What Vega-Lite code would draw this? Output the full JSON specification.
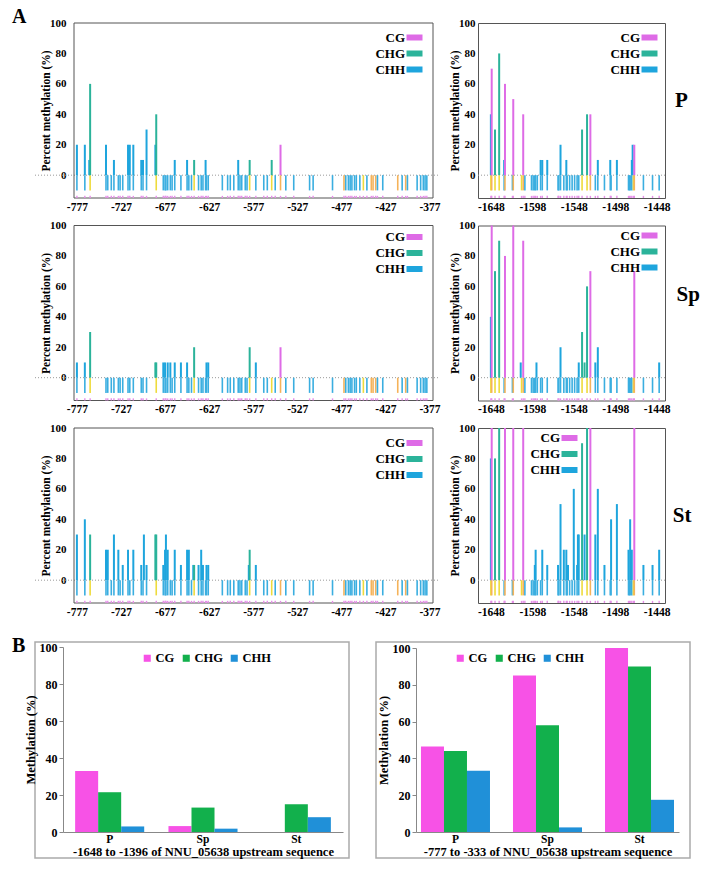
{
"$schema": "https://vega.github.io/schema/vega-lite/v6.json",
"padding": {"left": 12, "top": 6, "right": 0, "bottom": 0},
"autosize": {"type": "pad"},
"config": {
 "font": "Liberation Serif",
 "axis": {"labelFont": "Liberation Serif", "labelFontWeight": "bold", "labelColor": "#000", "labelFontSize": 11, "titleFont": "Liberation Serif", "titleFontWeight": "bold", "titleColor": "#000", "titleFontSize": 11.5, "grid": false, "domainColor": "#555", "tickColor": "#555", "tickSize": 3, "labelOverlap": false},
 "legend": {"labelFont": "Liberation Serif", "labelFontWeight": "bold", "labelColor": "#000", "padding": 0},
 "title": {"font": "Liberation Serif", "fontWeight": "bold", "color": "#000"}
},
"datasets": {
 "sL": [{"p":-777,"c":"CHH"},{"p":-768,"c":"CHH"},{"p":-762,"c":"CHG"},{"p":-744,"c":"CHH"},{"p":-742,"c":"CHH"},{"p":-738,"c":"CHH"},{"p":-735,"c":"CHH"},{"p":-730,"c":"CHH"},{"p":-728,"c":"CHH"},{"p":-725,"c":"CHH"},{"p":-719,"c":"CHH"},{"p":-717,"c":"CHH"},{"p":-713,"c":"CHH"},{"p":-704,"c":"CHH"},{"p":-702,"c":"CHH"},{"p":-698,"c":"CHH"},{"p":-687,"c":"CHG"},{"p":-679,"c":"CHH"},{"p":-677,"c":"CHH"},{"p":-676,"c":"CHH"},{"p":-674,"c":"CHH"},{"p":-671,"c":"CHH"},{"p":-669,"c":"CHH"},{"p":-666,"c":"CHH"},{"p":-659,"c":"CHH"},{"p":-652,"c":"CHH"},{"p":-650,"c":"CHH"},{"p":-647,"c":"CHH"},{"p":-644,"c":"CHG"},{"p":-639,"c":"CHH"},{"p":-636,"c":"CHH"},{"p":-634,"c":"CHH"},{"p":-631,"c":"CHH"},{"p":-630,"c":"CHH"},{"p":-628,"c":"CHH"},{"p":-612,"c":"CHH"},{"p":-606,"c":"CHH"},{"p":-603,"c":"CHH"},{"p":-599,"c":"CHH"},{"p":-594,"c":"CHH"},{"p":-592,"c":"CHH"},{"p":-590,"c":"CHH"},{"p":-586,"c":"CHH"},{"p":-584,"c":"CHH"},{"p":-581,"c":"CHG"},{"p":-574,"c":"CHH"},{"p":-565,"c":"CHH"},{"p":-561,"c":"CHH"},{"p":-556,"c":"CHG"},{"p":-552,"c":"CHH"},{"p":-546,"c":"CG"},{"p":-540,"c":"CHH"},{"p":-531,"c":"CHH"},{"p":-513,"c":"CHH"},{"p":-509,"c":"CHH"},{"p":-487,"c":"CHH"},{"p":-474,"c":"CG"},{"p":-472,"c":"CHH"},{"p":-469,"c":"CHH"},{"p":-467,"c":"CHH"},{"p":-465,"c":"CHH"},{"p":-462,"c":"CHH"},{"p":-460,"c":"CHH"},{"p":-456,"c":"CHH"},{"p":-452,"c":"CHG"},{"p":-448,"c":"CHH"},{"p":-443,"c":"CG"},{"p":-441,"c":"CG"},{"p":-438,"c":"CG"},{"p":-436,"c":"CHH"},{"p":-430,"c":"CHH"},{"p":-413,"c":"CG"},{"p":-408,"c":"CHH"},{"p":-404,"c":"CG"},{"p":-402,"c":"CHH"},{"p":-391,"c":"CHH"},{"p":-387,"c":"CHH"},{"p":-384,"c":"CHH"},{"p":-382,"c":"CHH"},{"p":-380,"c":"CHH"}],
 "sR": [{"p":-1648,"c":"CHG"},{"p":-1647,"c":"CG"},{"p":-1643,"c":"CHG"},{"p":-1638,"c":"CHG"},{"p":-1632,"c":"CHH"},{"p":-1631,"c":"CG"},{"p":-1622,"c":"CHH"},{"p":-1621,"c":"CG"},{"p":-1611,"c":"CHG"},{"p":-1609,"c":"CG"},{"p":-1607,"c":"CHH"},{"p":-1599,"c":"CHH"},{"p":-1597,"c":"CHH"},{"p":-1595,"c":"CHH"},{"p":-1594,"c":"CHH"},{"p":-1592,"c":"CHH"},{"p":-1588,"c":"CHH"},{"p":-1586,"c":"CHH"},{"p":-1580,"c":"CHH"},{"p":-1567,"c":"CHH"},{"p":-1566,"c":"CHH"},{"p":-1564,"c":"CHH"},{"p":-1560,"c":"CHH"},{"p":-1557,"c":"CHH"},{"p":-1556,"c":"CHH"},{"p":-1553,"c":"CHH"},{"p":-1550,"c":"CHH"},{"p":-1547,"c":"CHH"},{"p":-1544,"c":"CHH"},{"p":-1542,"c":"CHH"},{"p":-1538,"c":"CHG"},{"p":-1532,"c":"CHG"},{"p":-1528,"c":"CG"},{"p":-1522,"c":"CHH"},{"p":-1519,"c":"CHH"},{"p":-1511,"c":"CHH"},{"p":-1504,"c":"CHH"},{"p":-1503,"c":"CHH"},{"p":-1496,"c":"CHH"},{"p":-1482,"c":"CHH"},{"p":-1481,"c":"CHH"},{"p":-1480,"c":"CHH"},{"p":-1478,"c":"CHH"},{"p":-1476,"c":"CHG"},{"p":-1475,"c":"CG"},{"p":-1464,"c":"CHH"},{"p":-1453,"c":"CHH"},{"p":-1445,"c":"CHH"}],
 "mL": [
  {"r":"P","p":-777,"c":"CHH","v":20},{"r":"P","p":-768,"c":"CHH","v":20},{"r":"P","p":-763,"c":"CHH","v":10},{"r":"P","p":-762,"c":"CHG","v":60},{"r":"P","p":-744,"c":"CHH","v":20},{"r":"P","p":-735,"c":"CHH","v":10},{"r":"P","p":-719,"c":"CHH","v":20},{"r":"P","p":-717,"c":"CHH","v":20},{"r":"P","p":-713,"c":"CHH","v":20},{"r":"P","p":-704,"c":"CHH","v":10},{"r":"P","p":-702,"c":"CHH","v":10},{"r":"P","p":-698,"c":"CHH","v":30},{"r":"P","p":-688,"c":"CHH","v":20},{"r":"P","p":-687,"c":"CHG","v":40},{"r":"P","p":-666,"c":"CHH","v":10},{"r":"P","p":-652,"c":"CHH","v":10},{"r":"P","p":-644,"c":"CHG","v":10},{"r":"P","p":-631,"c":"CHH","v":10},{"r":"P","p":-594,"c":"CHH","v":10},{"r":"P","p":-581,"c":"CHG","v":10},{"r":"P","p":-556,"c":"CHG","v":10},{"r":"P","p":-546,"c":"CG","v":20},
  {"r":"Sp","p":-777,"c":"CHH","v":10},{"r":"Sp","p":-768,"c":"CHH","v":10},{"r":"Sp","p":-762,"c":"CHG","v":30},{"r":"Sp","p":-688,"c":"CHG","v":10},{"r":"Sp","p":-687,"c":"CHG","v":10},{"r":"Sp","p":-679,"c":"CHH","v":10},{"r":"Sp","p":-677,"c":"CHH","v":10},{"r":"Sp","p":-674,"c":"CHH","v":10},{"r":"Sp","p":-671,"c":"CHH","v":10},{"r":"Sp","p":-666,"c":"CHH","v":10},{"r":"Sp","p":-659,"c":"CHH","v":10},{"r":"Sp","p":-652,"c":"CHH","v":10},{"r":"Sp","p":-644,"c":"CHG","v":20},{"r":"Sp","p":-630,"c":"CHH","v":10},{"r":"Sp","p":-628,"c":"CHH","v":10},{"r":"Sp","p":-581,"c":"CHG","v":20},{"r":"Sp","p":-574,"c":"CHH","v":10},{"r":"Sp","p":-546,"c":"CG","v":20},
  {"r":"St","p":-777,"c":"CHH","v":30},{"r":"St","p":-768,"c":"CHH","v":40},{"r":"St","p":-762,"c":"CHG","v":30},{"r":"St","p":-744,"c":"CHH","v":20},{"r":"St","p":-742,"c":"CHH","v":20},{"r":"St","p":-735,"c":"CHH","v":30},{"r":"St","p":-730,"c":"CHH","v":20},{"r":"St","p":-725,"c":"CHH","v":10},{"r":"St","p":-719,"c":"CHH","v":20},{"r":"St","p":-713,"c":"CHH","v":20},{"r":"St","p":-704,"c":"CHH","v":10},{"r":"St","p":-701,"c":"CHH","v":30},{"r":"St","p":-698,"c":"CHH","v":10},{"r":"St","p":-688,"c":"CHG","v":30},{"r":"St","p":-687,"c":"CHG","v":30},{"r":"St","p":-679,"c":"CHH","v":10},{"r":"St","p":-677,"c":"CHH","v":20},{"r":"St","p":-676,"c":"CHH","v":30},{"r":"St","p":-674,"c":"CHH","v":20},{"r":"St","p":-666,"c":"CHH","v":20},{"r":"St","p":-659,"c":"CHH","v":10},{"r":"St","p":-652,"c":"CHH","v":20},{"r":"St","p":-650,"c":"CHH","v":20},{"r":"St","p":-645,"c":"CHH","v":10},{"r":"St","p":-644,"c":"CHG","v":10},{"r":"St","p":-639,"c":"CHH","v":10},{"r":"St","p":-636,"c":"CHH","v":20},{"r":"St","p":-634,"c":"CHH","v":10},{"r":"St","p":-630,"c":"CHH","v":10},{"r":"St","p":-628,"c":"CHH","v":10},{"r":"St","p":-582,"c":"CHH","v":10},{"r":"St","p":-581,"c":"CHG","v":20},{"r":"St","p":-574,"c":"CHH","v":10}
 ],
 "mR": [
  {"r":"P","p":-1648,"c":"CHH","v":40},{"r":"P","p":-1647,"c":"CG","v":70},{"r":"P","p":-1643,"c":"CHG","v":30},{"r":"P","p":-1638,"c":"CHG","v":80},{"r":"P","p":-1632,"c":"CHH","v":10},{"r":"P","p":-1631,"c":"CG","v":60},{"r":"P","p":-1621,"c":"CG","v":50},{"r":"P","p":-1609,"c":"CG","v":40},{"r":"P","p":-1588,"c":"CHH","v":10},{"r":"P","p":-1586,"c":"CHH","v":10},{"r":"P","p":-1580,"c":"CHH","v":10},{"r":"P","p":-1564,"c":"CHH","v":20},{"r":"P","p":-1557,"c":"CHH","v":10},{"r":"P","p":-1538,"c":"CHG","v":30},{"r":"P","p":-1532,"c":"CHG","v":40},{"r":"P","p":-1528,"c":"CG","v":40},{"r":"P","p":-1519,"c":"CHH","v":10},{"r":"P","p":-1504,"c":"CHH","v":10},{"r":"P","p":-1496,"c":"CHH","v":10},{"r":"P","p":-1478,"c":"CHH","v":10},{"r":"P","p":-1477,"c":"CHH","v":20},{"r":"P","p":-1475,"c":"CG","v":20},
  {"r":"Sp","p":-1648,"c":"CHH","v":40},{"r":"Sp","p":-1647,"c":"CG","v":100},{"r":"Sp","p":-1643,"c":"CHG","v":70},{"r":"Sp","p":-1638,"c":"CHG","v":90},{"r":"Sp","p":-1631,"c":"CG","v":80},{"r":"Sp","p":-1621,"c":"CG","v":100},{"r":"Sp","p":-1612,"c":"CHH","v":10},{"r":"Sp","p":-1609,"c":"CG","v":90},{"r":"Sp","p":-1593,"c":"CHH","v":10},{"r":"Sp","p":-1564,"c":"CHH","v":20},{"r":"Sp","p":-1542,"c":"CHH","v":10},{"r":"Sp","p":-1538,"c":"CHG","v":30},{"r":"Sp","p":-1535,"c":"CHG","v":10},{"r":"Sp","p":-1532,"c":"CHG","v":60},{"r":"Sp","p":-1528,"c":"CG","v":70},{"r":"Sp","p":-1522,"c":"CHH","v":10},{"r":"Sp","p":-1519,"c":"CHH","v":20},{"r":"Sp","p":-1475,"c":"CG","v":70},{"r":"Sp","p":-1445,"c":"CHH","v":10},
  {"r":"St","p":-1648,"c":"CHH","v":80},{"r":"St","p":-1647,"c":"CG","v":100},{"r":"St","p":-1643,"c":"CHG","v":80},{"r":"St","p":-1638,"c":"CHG","v":100},{"r":"St","p":-1631,"c":"CG","v":100},{"r":"St","p":-1621,"c":"CG","v":100},{"r":"St","p":-1609,"c":"CG","v":100},{"r":"St","p":-1595,"c":"CHH","v":10},{"r":"St","p":-1594,"c":"CHH","v":20},{"r":"St","p":-1586,"c":"CHH","v":20},{"r":"St","p":-1580,"c":"CHH","v":10},{"r":"St","p":-1567,"c":"CHH","v":10},{"r":"St","p":-1564,"c":"CHH","v":50},{"r":"St","p":-1560,"c":"CHH","v":20},{"r":"St","p":-1557,"c":"CHH","v":20},{"r":"St","p":-1555,"c":"CHH","v":10},{"r":"St","p":-1548,"c":"CHH","v":60},{"r":"St","p":-1544,"c":"CHH","v":10},{"r":"St","p":-1543,"c":"CHH","v":30},{"r":"St","p":-1542,"c":"CHH","v":30},{"r":"St","p":-1538,"c":"CHG","v":90},{"r":"St","p":-1535,"c":"CHH","v":30},{"r":"St","p":-1532,"c":"CHG","v":100},{"r":"St","p":-1528,"c":"CG","v":100},{"r":"St","p":-1522,"c":"CHH","v":30},{"r":"St","p":-1519,"c":"CHH","v":60},{"r":"St","p":-1511,"c":"CHH","v":10},{"r":"St","p":-1503,"c":"CHH","v":40},{"r":"St","p":-1496,"c":"CHH","v":50},{"r":"St","p":-1482,"c":"CHH","v":20},{"r":"St","p":-1480,"c":"CHH","v":40},{"r":"St","p":-1479,"c":"CHH","v":10},{"r":"St","p":-1478,"c":"CHH","v":20},{"r":"St","p":-1475,"c":"CG","v":100},{"r":"St","p":-1464,"c":"CHH","v":10},{"r":"St","p":-1453,"c":"CHH","v":10},{"r":"St","p":-1445,"c":"CHH","v":20}
 ],
 "bL": [{"g":"P","c":"CG","v":33},{"g":"P","c":"CHG","v":21.5},{"g":"P","c":"CHH","v":3},{"g":"Sp","c":"CG","v":3.2},{"g":"Sp","c":"CHG","v":13.2},{"g":"Sp","c":"CHH","v":1.8},{"g":"St","c":"CG","v":0},{"g":"St","c":"CHG","v":15},{"g":"St","c":"CHH","v":8}],
 "bR": [{"g":"P","c":"CG","v":46.5},{"g":"P","c":"CHG","v":44},{"g":"P","c":"CHH","v":33.3},{"g":"Sp","c":"CG","v":85},{"g":"Sp","c":"CHG","v":58},{"g":"Sp","c":"CHH","v":2.5},{"g":"St","c":"CG","v":100},{"g":"St","c":"CHG","v":90},{"g":"St","c":"CHH","v":17.5}]
},
"spacing": 18,
"resolve": {"scale": {"color": "independent", "stroke": "independent", "x": "independent", "y": "independent"}, "legend": {"color": "independent"}},
"vconcat": [
 {
  "title": {"text": "A", "anchor": "start", "frame": "group", "fontSize": 20, "dx": -23, "dy": 10, "offset": 0},
  "columns": 2,
  "bounds": "flush",
  "spacing": {"row": 27.5, "column": 40},
  "resolve": {"scale": {"color": "independent", "stroke": "independent", "x": "independent", "y": "independent"}, "legend": {"color": "independent"}},
  "concat": [
   {"width": 403, "height": 175, "view": {"stroke": null},
    "resolve": {"axis": {"y": "independent"}},
    "layer": [
     {"data": {"values": [{}]}, "mark": {"type": "rule", "color": "#999", "strokeDash": [1, 2], "strokeWidth": 1}, "encoding": {"y": {"datum": 0, "type": "quantitative", "scale": {"domain": [-15, 100], "nice": false, "zero": false}, "axis": {"title": "Percent methylation (%)", "offset": -34, "values": [0, 20, 40, 60, 80, 100], "labelOverlap": false, "domain": false, "ticks": false, "labelPadding": 3, "titlePadding": -2}}}},
     {"data": {"values": [{}]}, "mark": {"type": "rect", "filled": false, "stroke": "#555", "strokeWidth": 1}, "encoding": {"x": {"datum": -780.3, "type": "quantitative", "title": null}, "x2": {"datum": -373}, "y": {"datum": 100, "type": "quantitative", "axis": null}, "y2": {"datum": -15}}},
     {"data": {"name": "sL"}, "mark": {"type": "rule", "strokeWidth": 1.6}, "encoding": {"x": {"field": "p", "type": "quantitative", "scale": {"domain": [-780.3, -373], "range": [34, 403], "nice": false, "zero": false}, "axis": {"values": [-777, -727, -677, -627, -577, -527, -477, -427, -377], "labelExpr": "'' + datum.value", "domain": false, "ticks": false, "labelPadding": 3, "labelFontSize": 11.5}, "title": null}, "y": {"datum": 0, "axis": null}, "y2": {"datum": -10}, "stroke": {"field": "c", "type": "nominal", "scale": {"domain": ["CHH", "CHG", "CG"], "range": ["#3aaee0", "#eedb3c", "#f5b35a"]}, "legend": null}}},
     {"data": {"name": "sL"}, "mark": {"type": "rule", "strokeWidth": 1.4, "color": "#e58fe8"}, "encoding": {"x": {"field": "p", "type": "quantitative", "title": null}, "y": {"datum": -13.6, "axis": null}, "y2": {"datum": -15}}},
     {"data": {"name": "mL"}, "transform": [{"filter": "datum.r == 'P'"}], "mark": {"type": "bar", "size": 2}, "encoding": {"x": {"field": "p", "type": "quantitative", "title": null}, "y": {"field": "v", "type": "quantitative", "axis": null}, "y2": {"datum": 0}, "color": {"field": "c", "type": "nominal", "scale": {"domain": ["CG", "CHG", "CHH"], "range": ["#de6be6", "#2bb39a", "#1ea5dd"]}, "legend": {"orient": "none", "legendX": 373, "legendY": 8, "title": null, "symbolType": "M-1.6,-0.6H1.6V0.6H-1.6Z", "symbolSize": 100, "labelAlign": "right", "labelOffset": -16, "labelFontSize": 13, "rowPadding": 2}}}}
    ]},
   {"width": 187, "height": 175, "view": {"stroke": "#555"},
    "resolve": {"axis": {"y": "independent"}},
    "title": {"text": "P", "orient": "right", "angle": 0, "fontSize": 21, "anchor": "middle", "offset": -8, "frame": "group", "baseline": "middle", "align": "left", "dy": -10},
    "layer": [
     {"data": {"values": [{}]}, "mark": {"type": "rule", "color": "#999", "strokeDash": [1, 2], "strokeWidth": 1}, "encoding": {"y": {"datum": 0, "type": "quantitative", "scale": {"domain": [-15, 100], "nice": false, "zero": false}, "axis": {"title": "Percent methylation (%)", "values": [0, 20, 40, 60, 80, 100], "labelOverlap": false, "domain": false, "ticks": false, "labelPadding": 3, "titlePadding": -2}}}},
     {"data": {"name": "sR"}, "mark": {"type": "rule", "strokeWidth": 1.6}, "encoding": {"x": {"field": "p", "type": "quantitative", "scale": {"domain": [-1657.5, -1444], "nice": false, "zero": false}, "axis": {"values": [-1648, -1598, -1548, -1498, -1448], "labelExpr": "'' + datum.value", "domain": false, "ticks": false, "labelPadding": 3, "labelFontSize": 11.5}, "title": null}, "y": {"datum": 0, "axis": null}, "y2": {"datum": -10}, "stroke": {"field": "c", "type": "nominal", "scale": {"domain": ["CHH", "CHG", "CG"], "range": ["#3aaee0", "#eedb3c", "#f5b35a"]}, "legend": null}}},
     {"data": {"name": "sR"}, "mark": {"type": "rule", "strokeWidth": 1.4, "color": "#e58fe8"}, "encoding": {"x": {"field": "p", "type": "quantitative", "title": null}, "y": {"datum": -13.6, "axis": null}, "y2": {"datum": -15}}},
     {"data": {"name": "mR"}, "transform": [{"filter": "datum.r == 'P'"}], "mark": {"type": "bar", "size": 2}, "encoding": {"x": {"field": "p", "type": "quantitative", "title": null}, "y": {"field": "v", "type": "quantitative", "axis": null}, "y2": {"datum": 0}, "color": {"field": "c", "type": "nominal", "scale": {"domain": ["CG", "CHG", "CHH"], "range": ["#de6be6", "#2bb39a", "#1ea5dd"]}, "legend": {"orient": "none", "legendX": 165, "legendY": 8, "title": null, "symbolType": "M-1.6,-0.6H1.6V0.6H-1.6Z", "symbolSize": 100, "labelAlign": "right", "labelOffset": -16, "labelFontSize": 13, "rowPadding": 2}}}}
    ]},
   {"width": 403, "height": 175, "view": {"stroke": null},
    "resolve": {"axis": {"y": "independent"}},
    "layer": [
     {"data": {"values": [{}]}, "mark": {"type": "rule", "color": "#999", "strokeDash": [1, 2], "strokeWidth": 1}, "encoding": {"y": {"datum": 0, "type": "quantitative", "scale": {"domain": [-15, 100], "nice": false, "zero": false}, "axis": {"title": "Percent methylation (%)", "offset": -34, "values": [0, 20, 40, 60, 80, 100], "labelOverlap": false, "domain": false, "ticks": false, "labelPadding": 3, "titlePadding": -2}}}},
     {"data": {"values": [{}]}, "mark": {"type": "rect", "filled": false, "stroke": "#555", "strokeWidth": 1}, "encoding": {"x": {"datum": -780.3, "type": "quantitative", "title": null}, "x2": {"datum": -373}, "y": {"datum": 100, "type": "quantitative", "axis": null}, "y2": {"datum": -15}}},
     {"data": {"name": "sL"}, "mark": {"type": "rule", "strokeWidth": 1.6}, "encoding": {"x": {"field": "p", "type": "quantitative", "scale": {"domain": [-780.3, -373], "range": [34, 403], "nice": false, "zero": false}, "axis": {"values": [-777, -727, -677, -627, -577, -527, -477, -427, -377], "labelExpr": "'' + datum.value", "domain": false, "ticks": false, "labelPadding": 3, "labelFontSize": 11.5}, "title": null}, "y": {"datum": 0, "axis": null}, "y2": {"datum": -10}, "stroke": {"field": "c", "type": "nominal", "scale": {"domain": ["CHH", "CHG", "CG"], "range": ["#3aaee0", "#eedb3c", "#f5b35a"]}, "legend": null}}},
     {"data": {"name": "sL"}, "mark": {"type": "rule", "strokeWidth": 1.4, "color": "#e58fe8"}, "encoding": {"x": {"field": "p", "type": "quantitative", "title": null}, "y": {"datum": -13.6, "axis": null}, "y2": {"datum": -15}}},
     {"data": {"name": "mL"}, "transform": [{"filter": "datum.r == 'Sp'"}], "mark": {"type": "bar", "size": 2}, "encoding": {"x": {"field": "p", "type": "quantitative", "title": null}, "y": {"field": "v", "type": "quantitative", "axis": null}, "y2": {"datum": 0}, "color": {"field": "c", "type": "nominal", "scale": {"domain": ["CG", "CHG", "CHH"], "range": ["#de6be6", "#2bb39a", "#1ea5dd"]}, "legend": {"orient": "none", "legendX": 373, "legendY": 5, "title": null, "symbolType": "M-1.6,-0.6H1.6V0.6H-1.6Z", "symbolSize": 100, "labelAlign": "right", "labelOffset": -16, "labelFontSize": 13, "rowPadding": 2}}}}
    ]},
   {"width": 187, "height": 175, "view": {"stroke": "#555"},
    "resolve": {"axis": {"y": "independent"}},
    "title": {"text": "Sp", "orient": "right", "angle": 0, "fontSize": 21, "anchor": "middle", "offset": -17, "frame": "group", "baseline": "middle", "align": "left", "dy": -18},
    "layer": [
     {"data": {"values": [{}]}, "mark": {"type": "rule", "color": "#999", "strokeDash": [1, 2], "strokeWidth": 1}, "encoding": {"y": {"datum": 0, "type": "quantitative", "scale": {"domain": [-15, 100], "nice": false, "zero": false}, "axis": {"title": "Percent methylation (%)", "values": [0, 20, 40, 60, 80, 100], "labelOverlap": false, "domain": false, "ticks": false, "labelPadding": 3, "titlePadding": -2}}}},
     {"data": {"name": "sR"}, "mark": {"type": "rule", "strokeWidth": 1.6}, "encoding": {"x": {"field": "p", "type": "quantitative", "scale": {"domain": [-1657.5, -1444], "nice": false, "zero": false}, "axis": {"values": [-1648, -1598, -1548, -1498, -1448], "labelExpr": "'' + datum.value", "domain": false, "ticks": false, "labelPadding": 3, "labelFontSize": 11.5}, "title": null}, "y": {"datum": 0, "axis": null}, "y2": {"datum": -10}, "stroke": {"field": "c", "type": "nominal", "scale": {"domain": ["CHH", "CHG", "CG"], "range": ["#3aaee0", "#eedb3c", "#f5b35a"]}, "legend": null}}},
     {"data": {"name": "sR"}, "mark": {"type": "rule", "strokeWidth": 1.4, "color": "#e58fe8"}, "encoding": {"x": {"field": "p", "type": "quantitative", "title": null}, "y": {"datum": -13.6, "axis": null}, "y2": {"datum": -15}}},
     {"data": {"name": "mR"}, "transform": [{"filter": "datum.r == 'Sp'"}], "mark": {"type": "bar", "size": 2}, "encoding": {"x": {"field": "p", "type": "quantitative", "title": null}, "y": {"field": "v", "type": "quantitative", "axis": null}, "y2": {"datum": 0}, "color": {"field": "c", "type": "nominal", "scale": {"domain": ["CG", "CHG", "CHH"], "range": ["#de6be6", "#2bb39a", "#1ea5dd"]}, "legend": {"orient": "none", "legendX": 165, "legendY": 3.5, "title": null, "symbolType": "M-1.6,-0.6H1.6V0.6H-1.6Z", "symbolSize": 100, "labelAlign": "right", "labelOffset": -16, "labelFontSize": 13, "rowPadding": 2}}}}
    ]},
   {"width": 403, "height": 175, "view": {"stroke": null},
    "resolve": {"axis": {"y": "independent"}},
    "layer": [
     {"data": {"values": [{}]}, "mark": {"type": "rule", "color": "#999", "strokeDash": [1, 2], "strokeWidth": 1}, "encoding": {"y": {"datum": 0, "type": "quantitative", "scale": {"domain": [-15, 100], "nice": false, "zero": false}, "axis": {"title": "Percent methylation (%)", "offset": -34, "values": [0, 20, 40, 60, 80, 100], "labelOverlap": false, "domain": false, "ticks": false, "labelPadding": 3, "titlePadding": -2}}}},
     {"data": {"values": [{}]}, "mark": {"type": "rect", "filled": false, "stroke": "#555", "strokeWidth": 1}, "encoding": {"x": {"datum": -780.3, "type": "quantitative", "title": null}, "x2": {"datum": -373}, "y": {"datum": 100, "type": "quantitative", "axis": null}, "y2": {"datum": -15}}},
     {"data": {"name": "sL"}, "mark": {"type": "rule", "strokeWidth": 1.6}, "encoding": {"x": {"field": "p", "type": "quantitative", "scale": {"domain": [-780.3, -373], "range": [34, 403], "nice": false, "zero": false}, "axis": {"values": [-777, -727, -677, -627, -577, -527, -477, -427, -377], "labelExpr": "'' + datum.value", "domain": false, "ticks": false, "labelPadding": 3, "labelFontSize": 11.5}, "title": null}, "y": {"datum": 0, "axis": null}, "y2": {"datum": -10}, "stroke": {"field": "c", "type": "nominal", "scale": {"domain": ["CHH", "CHG", "CG"], "range": ["#3aaee0", "#eedb3c", "#f5b35a"]}, "legend": null}}},
     {"data": {"name": "sL"}, "mark": {"type": "rule", "strokeWidth": 1.4, "color": "#e58fe8"}, "encoding": {"x": {"field": "p", "type": "quantitative", "title": null}, "y": {"datum": -13.6, "axis": null}, "y2": {"datum": -15}}},
     {"data": {"name": "mL"}, "transform": [{"filter": "datum.r == 'St'"}], "mark": {"type": "bar", "size": 2}, "encoding": {"x": {"field": "p", "type": "quantitative", "title": null}, "y": {"field": "v", "type": "quantitative", "axis": null}, "y2": {"datum": 0}, "color": {"field": "c", "type": "nominal", "scale": {"domain": ["CG", "CHG", "CHH"], "range": ["#de6be6", "#2bb39a", "#1ea5dd"]}, "legend": {"orient": "none", "legendX": 373, "legendY": 8.5, "title": null, "symbolType": "M-1.6,-0.6H1.6V0.6H-1.6Z", "symbolSize": 100, "labelAlign": "right", "labelOffset": -16, "labelFontSize": 13, "rowPadding": 2}}}}
    ]},
   {"width": 187, "height": 175, "view": {"stroke": "#555"},
    "resolve": {"axis": {"y": "independent"}},
    "title": {"text": "St", "orient": "right", "angle": 0, "fontSize": 21, "anchor": "middle", "offset": -16, "frame": "group", "baseline": "middle", "align": "left", "dy": 0},
    "layer": [
     {"data": {"values": [{}]}, "mark": {"type": "rule", "color": "#999", "strokeDash": [1, 2], "strokeWidth": 1}, "encoding": {"y": {"datum": 0, "type": "quantitative", "scale": {"domain": [-15, 100], "nice": false, "zero": false}, "axis": {"title": "Percent methylation (%)", "values": [0, 20, 40, 60, 80, 100], "labelOverlap": false, "domain": false, "ticks": false, "labelPadding": 3, "titlePadding": -2}}}},
     {"data": {"name": "sR"}, "mark": {"type": "rule", "strokeWidth": 1.6}, "encoding": {"x": {"field": "p", "type": "quantitative", "scale": {"domain": [-1657.5, -1444], "nice": false, "zero": false}, "axis": {"values": [-1648, -1598, -1548, -1498, -1448], "labelExpr": "'' + datum.value", "domain": false, "ticks": false, "labelPadding": 3, "labelFontSize": 11.5}, "title": null}, "y": {"datum": 0, "axis": null}, "y2": {"datum": -10}, "stroke": {"field": "c", "type": "nominal", "scale": {"domain": ["CHH", "CHG", "CG"], "range": ["#3aaee0", "#eedb3c", "#f5b35a"]}, "legend": null}}},
     {"data": {"name": "sR"}, "mark": {"type": "rule", "strokeWidth": 1.4, "color": "#e58fe8"}, "encoding": {"x": {"field": "p", "type": "quantitative", "title": null}, "y": {"datum": -13.6, "axis": null}, "y2": {"datum": -15}}},
     {"data": {"name": "mR"}, "transform": [{"filter": "datum.r == 'St'"}], "mark": {"type": "bar", "size": 2}, "encoding": {"x": {"field": "p", "type": "quantitative", "title": null}, "y": {"field": "v", "type": "quantitative", "axis": null}, "y2": {"datum": 0}, "color": {"field": "c", "type": "nominal", "scale": {"domain": ["CG", "CHG", "CHH"], "range": ["#de6be6", "#2bb39a", "#1ea5dd"]}, "legend": {"orient": "none", "legendX": 85, "legendY": 3.5, "title": null, "symbolType": "M-1.6,-0.6H1.6V0.6H-1.6Z", "symbolSize": 100, "labelAlign": "right", "labelOffset": -16, "labelFontSize": 13, "rowPadding": 2}}}}
    ]}
  ]
 },
 {
  "title": {"text": "B", "anchor": "start", "frame": "group", "fontSize": 20, "dx": -23, "dy": 16, "offset": 0},
  "spacing": 25,
  "resolve": {"scale": {"color": "independent", "x": "independent", "y": "independent", "xOffset": "independent"}, "legend": {"color": "independent"}},
  "hconcat": [
   {"width": 314, "height": 216, "view": {"stroke": "#aaa", "strokeWidth": 1.5},
    "data": {"name": "bL"}, "mark": {"type": "bar"},
    "encoding": {
     "x": {"field": "g", "type": "nominal", "sort": ["P", "Sp", "St"], "scale": {"range": [28, 308], "paddingInner": 0.26, "paddingOuter": 0.13}, "axis": {"offset": -26, "ticks": false, "labelAngle": 0, "labelFontSize": 11.5, "labelPadding": 1, "titleFontSize": 12.5, "titlePadding": 1, "domainColor": "#888"}, "title": "-1648 to -1396 of NNU_05638 upstream sequence"},
     "xOffset": {"field": "c", "type": "nominal", "sort": ["CG", "CHG", "CHH"]},
     "y": {"field": "v", "type": "quantitative", "scale": {"domain": [0, 100], "range": [190, 5], "nice": false}, "axis": {"offset": -28, "values": [0, 20, 40, 60, 80, 100], "titleFontSize": 12.5, "labelFontSize": 12, "domainColor": "#888", "tickColor": "#888", "tickSize": 4, "titlePadding": 2}, "title": "Methylation (%)"},
     "color": {"field": "c", "type": "nominal", "scale": {"domain": ["CG", "CHG", "CHH"], "range": ["#f752e6", "#12b04c", "#2090d8"]}, "legend": {"orient": "none", "legendX": 106, "legendY": 10, "direction": "horizontal", "gridAlign": "none", "title": null, "symbolType": "square", "symbolSize": 50, "labelFontSize": 12.5, "columnPadding": 5, "labelOffset": 2}}
    }},
   {"width": 314, "height": 216, "view": {"stroke": "#aaa", "strokeWidth": 1.5},
    "data": {"name": "bR"}, "mark": {"type": "bar"},
    "encoding": {
     "x": {"field": "g", "type": "nominal", "sort": ["P", "Sp", "St"], "scale": {"range": [40, 303], "paddingInner": 0.25, "paddingOuter": 0.054}, "axis": {"offset": -26, "ticks": false, "labelAngle": 0, "labelFontSize": 11.5, "labelPadding": 1, "titleFontSize": 12.5, "titlePadding": 1, "domainColor": "#888"}, "title": "-777 to -333 of NNU_05638 upstream sequence"},
     "xOffset": {"field": "c", "type": "nominal", "sort": ["CG", "CHG", "CHH"]},
     "y": {"field": "v", "type": "quantitative", "scale": {"domain": [0, 100], "range": [190, 6], "nice": false}, "axis": {"offset": -40, "values": [0, 20, 40, 60, 80, 100], "titleFontSize": 12.5, "labelFontSize": 12, "domainColor": "#888", "tickColor": "#888", "tickSize": 4, "titlePadding": 2}, "title": "Methylation (%)"},
     "color": {"field": "c", "type": "nominal", "scale": {"domain": ["CG", "CHG", "CHH"], "range": ["#f752e6", "#12b04c", "#2090d8"]}, "legend": {"orient": "none", "legendX": 78, "legendY": 10, "direction": "horizontal", "gridAlign": "none", "title": null, "symbolType": "square", "symbolSize": 50, "labelFontSize": 12.5, "columnPadding": 5, "labelOffset": 2}}
    }}
  ]
 }
]
}
